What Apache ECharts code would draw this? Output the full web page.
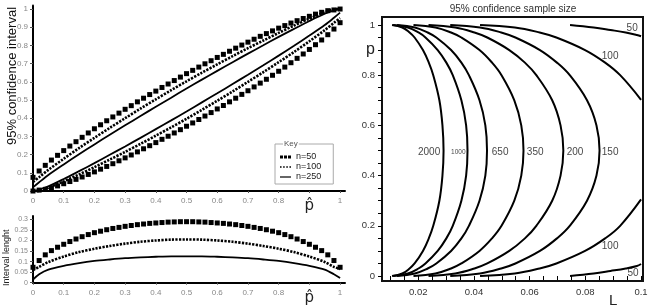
<!DOCTYPE html>
<html>
<head>
<meta charset="utf-8">
<script src="https://cdn.jsdelivr.net/npm/echarts/dist/echarts.min.js"></script>
<style>
  html, body { margin: 0; padding: 0; background: #fff; }
  #chart { width: 652px; height: 308px; }
</style>
</head>
<body>
<div id="chart"></div>
<script>
// ---- left panels: p-hat grid and interval bounds ----
var p50 = [0, 0.02, 0.04, 0.06, 0.08, 0.1, 0.12, 0.14, 0.16, 0.18, 0.2, 0.22, 0.24, 0.26, 0.28, 0.3,
  0.32, 0.34, 0.36, 0.38, 0.4, 0.42, 0.44, 0.46, 0.48, 0.5, 0.52, 0.54, 0.56, 0.58, 0.6, 0.62, 0.64,
  0.66, 0.68, 0.7, 0.72, 0.74, 0.76, 0.78, 0.8, 0.82, 0.84, 0.86, 0.88, 0.9, 0.92, 0.94, 0.96, 0.98, 1];
var up50 = [0.075, 0.110, 0.141, 0.170, 0.196, 0.222, 0.247, 0.271, 0.295, 0.319, 0.342, 0.364, 0.386,
  0.407, 0.428, 0.449, 0.469, 0.490, 0.510, 0.530, 0.549, 0.569, 0.588, 0.607, 0.626, 0.645, 0.663,
  0.681, 0.699, 0.716, 0.734, 0.751, 0.768, 0.785, 0.802, 0.818, 0.834, 0.850, 0.865, 0.880, 0.895,
  0.909, 0.923, 0.936, 0.948, 0.960, 0.972, 0.982, 0.991, 0.995, 1.0];
var lo50 = [0, 0.005, 0.009, 0.018, 0.028, 0.040, 0.052, 0.064, 0.077, 0.091, 0.105, 0.120, 0.135,
  0.150, 0.166, 0.182, 0.198, 0.215, 0.232, 0.249, 0.266, 0.284, 0.301, 0.319, 0.337, 0.356, 0.374,
  0.393, 0.412, 0.431, 0.451, 0.470, 0.490, 0.510, 0.531, 0.551, 0.572, 0.593, 0.614, 0.636, 0.658,
  0.681, 0.705, 0.729, 0.753, 0.778, 0.804, 0.830, 0.859, 0.890, 0.925];
var len50 = [0.073, 0.105, 0.132, 0.152, 0.168, 0.182, 0.195, 0.207, 0.218, 0.228, 0.237, 0.244, 0.251,
  0.257, 0.262, 0.267, 0.271, 0.275, 0.278, 0.281, 0.283, 0.285, 0.287, 0.288, 0.289, 0.289, 0.289,
  0.288, 0.287, 0.285, 0.283, 0.281, 0.278, 0.275, 0.271, 0.267, 0.262, 0.257, 0.251, 0.244, 0.237,
  0.228, 0.218, 0.207, 0.195, 0.182, 0.168, 0.152, 0.132, 0.105, 0.073];

var pLine = [0, 0.02, 0.05, 0.1, 0.15, 0.2, 0.25, 0.3, 0.35, 0.4, 0.45, 0.5, 0.55, 0.6, 0.65, 0.7,
  0.75, 0.8, 0.85, 0.9, 0.95, 0.98, 1];
var up100 = [0.05, 0.076, 0.116, 0.177, 0.236, 0.292, 0.347, 0.400, 0.453, 0.504, 0.554, 0.603, 0.650,
  0.696, 0.741, 0.785, 0.827, 0.869, 0.909, 0.947, 0.982, 0.999, 1];
var lo100 = [0, 0.001, 0.018, 0.053, 0.091, 0.131, 0.173, 0.215, 0.259, 0.304, 0.350, 0.397, 0.446,
  0.496, 0.547, 0.600, 0.653, 0.708, 0.764, 0.823, 0.884, 0.924, 0.95];
var len100 = [0.06, 0.075, 0.098, 0.124, 0.145, 0.161, 0.174, 0.185, 0.194, 0.2, 0.204, 0.205, 0.204,
  0.2, 0.194, 0.185, 0.174, 0.161, 0.145, 0.124, 0.098, 0.075, 0.065];
var up250 = [0.02, 0.048, 0.088, 0.146, 0.202, 0.256, 0.309, 0.361, 0.412, 0.463, 0.513, 0.563, 0.612,
  0.660, 0.708, 0.755, 0.801, 0.847, 0.891, 0.934, 0.974, 0.992, 1];
var lo250 = [0, 0.008, 0.026, 0.066, 0.109, 0.153, 0.199, 0.245, 0.292, 0.340, 0.388, 0.437, 0.487,
  0.537, 0.588, 0.639, 0.691, 0.744, 0.798, 0.854, 0.912, 0.952, 0.98];
var len250 = [0.015, 0.04, 0.062, 0.08, 0.093, 0.103, 0.11, 0.116, 0.12, 0.123, 0.125, 0.125, 0.125,
  0.123, 0.12, 0.116, 0.11, 0.103, 0.093, 0.08, 0.062, 0.04, 0.022];

// ---- right panel: sample size contours (L for each p level) ----
var pLevels = [1, 0.99, 0.97, 0.95, 0.9, 0.85, 0.8, 0.7, 0.6, 0.5, 0.4, 0.3, 0.2, 0.15, 0.1, 0.05, 0.03, 0.01, 0];
var L2000 = [0.0106, 0.0143, 0.0169, 0.0187, 0.0217, 0.0238, 0.0254, 0.0276, 0.0287, 0.0291,
  0.0287, 0.0276, 0.0254, 0.0238, 0.0217, 0.0187, 0.0169, 0.0143, 0.0106];
var L1000 = [0.011, 0.0163, 0.0201, 0.0226, 0.0270, 0.0301, 0.0324, 0.0355, 0.0372, 0.0377,
  0.0372, 0.0355, 0.0324, 0.0301, 0.0270, 0.0226, 0.0201, 0.0163, 0.011];
var L650 = [0.0124, 0.0188, 0.0234, 0.0265, 0.0318, 0.0355, 0.0382, 0.0420, 0.0441, 0.0447,
  0.0441, 0.0420, 0.0382, 0.0355, 0.0318, 0.0265, 0.0234, 0.0188, 0.0124];
var L350 = [0.0183, 0.0262, 0.0318, 0.0355, 0.0420, 0.0465, 0.0499, 0.0545, 0.0570, 0.0578,
  0.0570, 0.0545, 0.0499, 0.0465, 0.0420, 0.0355, 0.0318, 0.0262, 0.0183];
var L200 = [0.0237, 0.0333, 0.0402, 0.0448, 0.0527, 0.0583, 0.0624, 0.0681, 0.0711, 0.0721,
  0.0711, 0.0681, 0.0624, 0.0583, 0.0527, 0.0448, 0.0402, 0.0333, 0.0237];
var L150 = [0.0315, 0.0422, 0.0498, 0.0549, 0.0637, 0.0698, 0.0744, 0.0806, 0.0840, 0.0851,
  0.0840, 0.0806, 0.0744, 0.0698, 0.0637, 0.0549, 0.0498, 0.0422, 0.0315];
var p100Top = [1, 0.99, 0.97, 0.95, 0.9, 0.85, 0.8, 0.702];
var p100Bot = [0, 0.01, 0.03, 0.05, 0.1, 0.15, 0.2, 0.305];
var L100 = [0.0422, 0.0547, 0.0636, 0.0696, 0.0799, 0.0871, 0.0925, 0.1];
var p50Top = [1, 0.99, 0.98, 0.97, 0.96, 0.955];
var p50Bot = [0, 0.01, 0.02, 0.03, 0.04, 0.048];
var L50 = [0.0745, 0.083, 0.089, 0.0945, 0.0985, 0.1];

var contourText = ['2000', '1000', '650', '350', '200', '150', '100', '50', '100', '50'];
var contourTextL = [0.0239, 0.0344, 0.0494, 0.062, 0.0763, 0.0889, 0.0889, 0.0968, 0.0889, 0.0971];
var contourTextP = [0.492, 0.492, 0.492, 0.492, 0.492, 0.492, 0.877, 0.988, 0.119, 0.012];

// tick / label positions
var leftTicks = [0, 0.1, 0.2, 0.3, 0.4, 0.5, 0.6, 0.7, 0.8, 0.9, 1];
var lenTicks = [0, 0.05, 0.1, 0.15, 0.2, 0.25, 0.3];
var rightXLabels = [0.02, 0.04, 0.06, 0.08, 0.09, 0.1];
var rightXTicks = [0.01, 0.015, 0.02, 0.025, 0.03, 0.035, 0.04, 0.045, 0.05, 0.055, 0.06, 0.065,
  0.07, 0.075, 0.08, 0.085, 0.09, 0.095, 0.1];
var rightYLabels = [0, 0.2, 0.4, 0.6, 0.8, 0.9, 1];
var rightYTicks = [0, 0.05, 0.1, 0.15, 0.2, 0.25, 0.3, 0.35, 0.4, 0.45, 0.5, 0.55, 0.6, 0.65, 0.7,
  0.75, 0.8, 0.85, 0.9, 0.95, 1];

function zip(xs, ys) { return xs.map(function (x, i) { return [x, ys[i]]; }); }
function zipRev(ys, xs) { return xs.map(function (x, i) { return [x, ys[i]]; }); }

var chart = echarts.init(document.getElementById('chart'));
var FONT = 'Liberation Sans';

function leftX(idx) {
  return {
    type: 'value', gridIndex: idx, min: 0, max: 1.016,
    axisLine: { lineStyle: { color: '#000', width: 2 } },
    axisTick: { customValues: leftTicks, length: 2, lineStyle: { color: '#555' } },
    axisLabel: {
      customValues: leftTicks, color: '#888', fontSize: 8, margin: 6, fontFamily: FONT,
      formatter: function (v) { return v === 0.9 ? '{h|p\u0302}' : String(v); },
      rich: { h: { fontSize: 15, color: '#222', fontFamily: 'DejaVu Sans', padding: [2, 0, 0, 0] } }
    },
    splitLine: { show: false }
  };
}

var squares = { color: '#000', opacity: 1 };
var dotted = { color: '#000', width: 2.6, type: [2.2, 1.3] };
var solid = { color: '#000', width: 1.8 };

function sq(name, data, xi) {
  return { name: name, type: 'scatter', xAxisIndex: xi, yAxisIndex: xi, symbol: 'rect', symbolSize: 5,
    itemStyle: squares, data: data, clip: false, silent: true };
}
function ln(name, data, xi, style) {
  return { name: name, type: 'line', xAxisIndex: xi, yAxisIndex: xi, showSymbol: false, smooth: 0.3,
    lineStyle: style, itemStyle: { color: '#000' }, data: data, clip: false, silent: true };
}
function contour(name, data) {
  return { name: name, type: 'line', xAxisIndex: 2, yAxisIndex: 2, showSymbol: false, smooth: 0.4,
    lineStyle: { color: '#000', width: 2 }, data: data, silent: true };
}

var labelData = contourText.map(function (t, i) {
  return {
    value: [contourTextL[i], contourTextP[i], t],
    label: { fontSize: t === '1000' ? 6.5 : 10 }
  };
});

var option = {
  animation: false,
  textStyle: { fontFamily: FONT },
  grid: [
    { left: 33, top: 5.4, width: 312, height: 185.6 },
    { left: 33, top: 216, width: 312, height: 66.7 },
    { left: 382, top: 17, width: 261, height: 265, show: true, borderColor: '#111', borderWidth: 2 }
  ],
  xAxis: [
    leftX(0),
    leftX(1),
    {
      type: 'value', gridIndex: 2, min: 0.007, max: 0.1007,
      axisLine: { show: false },
      axisTick: { customValues: rightXTicks, length: 4, lineStyle: { color: '#000' } },
      axisLabel: {
        customValues: rightXLabels, color: '#333', fontSize: 9.5, margin: 6,
        formatter: function (v) { return v === 0.09 ? '{b|L}' : String(v); },
        rich: { b: { fontSize: 15, color: '#222', padding: [6, 0, 0, 0] } }
      },
      splitLine: { show: false }
    }
  ],
  yAxis: [
    {
      type: 'value', gridIndex: 0, min: 0, max: 1.02,
      axisLine: { show: true, lineStyle: { color: '#000', width: 2 } },
      axisTick: { show: true, customValues: leftTicks, length: 3, lineStyle: { color: '#555' } },
      axisLabel: { customValues: leftTicks, color: '#888', fontSize: 8, margin: 5 },
      splitLine: { show: false }
    },
    {
      type: 'value', gridIndex: 1, min: 0, max: 0.316,
      axisLine: { show: true, lineStyle: { color: '#000', width: 2 } },
      axisTick: { show: true, customValues: lenTicks, length: 3, lineStyle: { color: '#555' } },
      axisLabel: { customValues: lenTicks, color: '#888', fontSize: 7, margin: 5 },
      splitLine: { show: false }
    },
    {
      type: 'value', gridIndex: 2, min: -0.0198, max: 1.0317,
      axisLine: { show: false },
      axisTick: { show: true, customValues: rightYTicks, length: 4, lineStyle: { color: '#000' } },
      axisLabel: {
        customValues: rightYLabels, color: '#333', fontSize: 9.5, margin: 7,
        formatter: function (v) { return v === 0.9 ? '{b|p}' : String(v); },
        rich: { b: { fontSize: 16, color: '#222' } }
      },
      splitLine: { show: false }
    }
  ],
  legend: {
    left: 275, top: 144, orient: 'vertical',
    itemWidth: 11, itemHeight: 4, itemGap: 0,
    padding: [8, 12, 2, 5],
    borderColor: '#aaa', borderWidth: 1,
    textStyle: { fontSize: 9, color: '#222', lineHeight: 10 },
    selectedMode: false,
    data: [
      { name: 'n=50', icon: 'path://M0,0h3v3h-3zM4,0h3v3h-3zM8,0h3v3h-3z' },
      { name: 'n=100', icon: 'path://M0,0h1.5v1.5h-1.5zM3,0h1.5v1.5h-1.5zM6,0h1.5v1.5h-1.5zM9,0h1.5v1.5h-1.5z' },
      { name: 'n=250', icon: 'path://M0,0h11v1.2h-11z' }
    ]
  },
  graphic: [
    { type: 'text', x: 283, y: 140, z: 100,
      style: { text: 'Key', fontSize: 8, fill: '#555', backgroundColor: '#fff', padding: [0, 1] } },
    { type: 'text', x: 6, y: 145, rotation: Math.PI / 2,
      style: { text: '95% confidence interval', fontSize: 13, fill: '#111', fontFamily: FONT } },
    { type: 'text', x: 2, y: 286, rotation: Math.PI / 2,
      style: { text: 'Interval lenght', fontSize: 9, fill: '#222', fontFamily: FONT } },
    { type: 'text', x: 513, y: 4, style: { text: '95% confidence sample size', fontSize: 10,
      fill: '#333', align: 'center', fontFamily: FONT } }
  ],
  series: [
    sq('n=50', zip(p50, up50), 0),
    sq('n=50', zip(p50, lo50), 0),
    ln('n=100', zip(pLine, up100), 0, dotted),
    ln('n=100', zip(pLine, lo100), 0, dotted),
    ln('n=250', zip(pLine, up250), 0, solid),
    ln('n=250', zip(pLine, lo250), 0, solid),
    sq('n=50', zip(p50, len50), 1),
    ln('n=100', zip(pLine, len100), 1, dotted),
    ln('n=250', zip(pLine, len250), 1, solid),
    contour('2000', zipRev(pLevels, L2000)),
    contour('1000', zipRev(pLevels, L1000)),
    contour('650', zipRev(pLevels, L650)),
    contour('350', zipRev(pLevels, L350)),
    contour('200', zipRev(pLevels, L200)),
    contour('150', zipRev(pLevels, L150)),
    contour('100 top', zipRev(p100Top, L100)),
    contour('100 bottom', zipRev(p100Bot, L100)),
    contour('50 top', zipRev(p50Top, L50)),
    contour('50 bottom', zipRev(p50Bot, L50)),
    {
      name: 'labels', type: 'scatter', xAxisIndex: 2, yAxisIndex: 2, symbolSize: 0, silent: true,
      label: { show: true, position: 'inside', color: '#111', formatter: function (d) { return d.value[2]; } },
      data: labelData
    }
  ]
};

chart.setOption(option);
</script>
</body>
</html>
